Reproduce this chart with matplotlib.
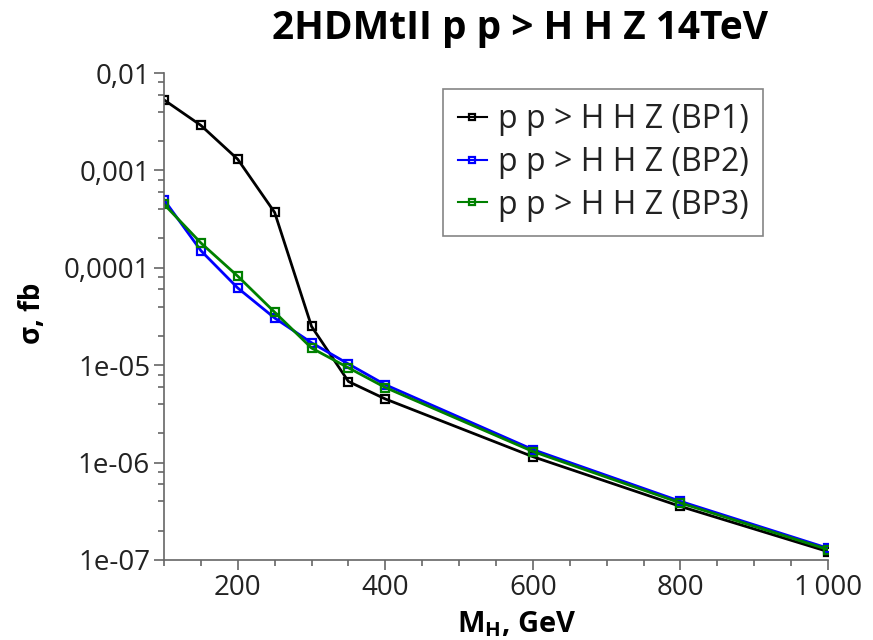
import numpy as np
import matplotlib
matplotlib.use('Agg')
import matplotlib.pyplot as plt
from matplotlib.ticker import MultipleLocator, LogLocator, FixedLocator, NullFormatter

mass = [100, 150, 200, 250, 300, 350, 400, 600, 800, 1000]
bp1 = [5.3e-3, 2.9e-3, 1.3e-3, 3.7e-4, 2.5e-5, 6.8e-6, 4.5e-6, 1.15e-6, 3.55e-7, 1.22e-7]
bp2 = [5.0e-4, 1.5e-4, 6.2e-5, 3.05e-5, 1.7e-5, 1.03e-5, 6.3e-6, 1.36e-6, 4.0e-7, 1.32e-7]
bp3 = [4.5e-4, 1.8e-4, 8.2e-5, 3.5e-5, 1.5e-5, 9.4e-6, 5.9e-6, 1.3e-6, 3.85e-7, 1.28e-7]
labels = ['p p > H H Z (BP1)', 'p p > H H Z (BP2)', 'p p > H H Z (BP3)']
colors = ['black', '#0000ff', '#008000']
ytick_vals = [1e-7, 1e-6, 1e-5, 1e-4, 1e-3, 1e-2]
ytick_labels = ['1e-07', '1e-06', '1e-05', '0,0001', '0,001', '0,01']

plt.rcParams['font.family'] = ['Open Sans', 'DejaVu Sans']
plt.rcParams['mathtext.fontset'] = 'custom'
plt.rcParams['mathtext.bf'] = 'Open Sans:bold'
plt.rcParams['mathtext.rm'] = 'Open Sans'

fig = plt.figure(figsize=(8.73, 6.4), dpi=100)
ax = fig.add_axes([164/873, 1-560/640, (828-164)/873, (560-73)/640])

for y, c, lab in zip([bp1, bp2, bp3], colors, labels):
    ax.plot(mass, y, color=c, lw=2, marker='s', ms=6, mfc='none', mew=1.6, label=lab)

ax.set_yscale('log')
ax.set_xlim(100, 1000)
ax.set_ylim(1e-7, 1e-2)
ax.yaxis.set_major_locator(FixedLocator(ytick_vals))
ax.set_yticklabels(ytick_labels)
ax.yaxis.set_minor_locator(LogLocator(base=10, subs=[2, 4, 6, 8]))
ax.yaxis.set_minor_formatter(NullFormatter())
ax.xaxis.set_minor_locator(MultipleLocator(50))
ax.set_xticks([200, 400, 600, 800, 1000])
ax.set_xticklabels(['200', '400', '600', '800', '1\u2009000'])

for s in ['top', 'right']:
    ax.spines[s].set_visible(False)
for s in ['left', 'bottom']:
    ax.spines[s].set_color('#666666')
    ax.spines[s].set_linewidth(1.2)
ax.tick_params(which='major', length=7, width=1.2, color='#666666', labelsize=20, labelcolor='#222222', pad=3)
ax.tick_params(which='minor', length=4, width=1.2, color='#666666')

fig.text(520/873, 1-29/640, '2HDMtII p p > H H Z 14TeV', ha='center', va='center',
         fontsize=28, fontweight='bold')
fig.text(32/873, 1-313/640, '\u03c3, fb', rotation=90, ha='center', va='center',
         fontsize=20, fontweight='bold')
fig.text(517/873, 1-624/640, r'M$_\mathbf{H}$, GeV', ha='center', va='center',
         fontsize=21, fontweight='bold')

leg = ax.legend(loc='upper right', bbox_to_anchor=(763/873, 1-89/640), bbox_transform=fig.transFigure,
                borderaxespad=0, fontsize=23, fancybox=False, edgecolor='#666666',
                handlelength=0.9, handletextpad=0.35, labelspacing=0.3, borderpad=0.45)
leg.get_frame().set_linewidth(1.2)
for t in leg.get_texts():
    t.set_color('#222222')
for h in leg.get_lines():
    h.set_markersize(4)
    h.set_linewidth(1.5)

fig.savefig('out.png', dpi=100)
